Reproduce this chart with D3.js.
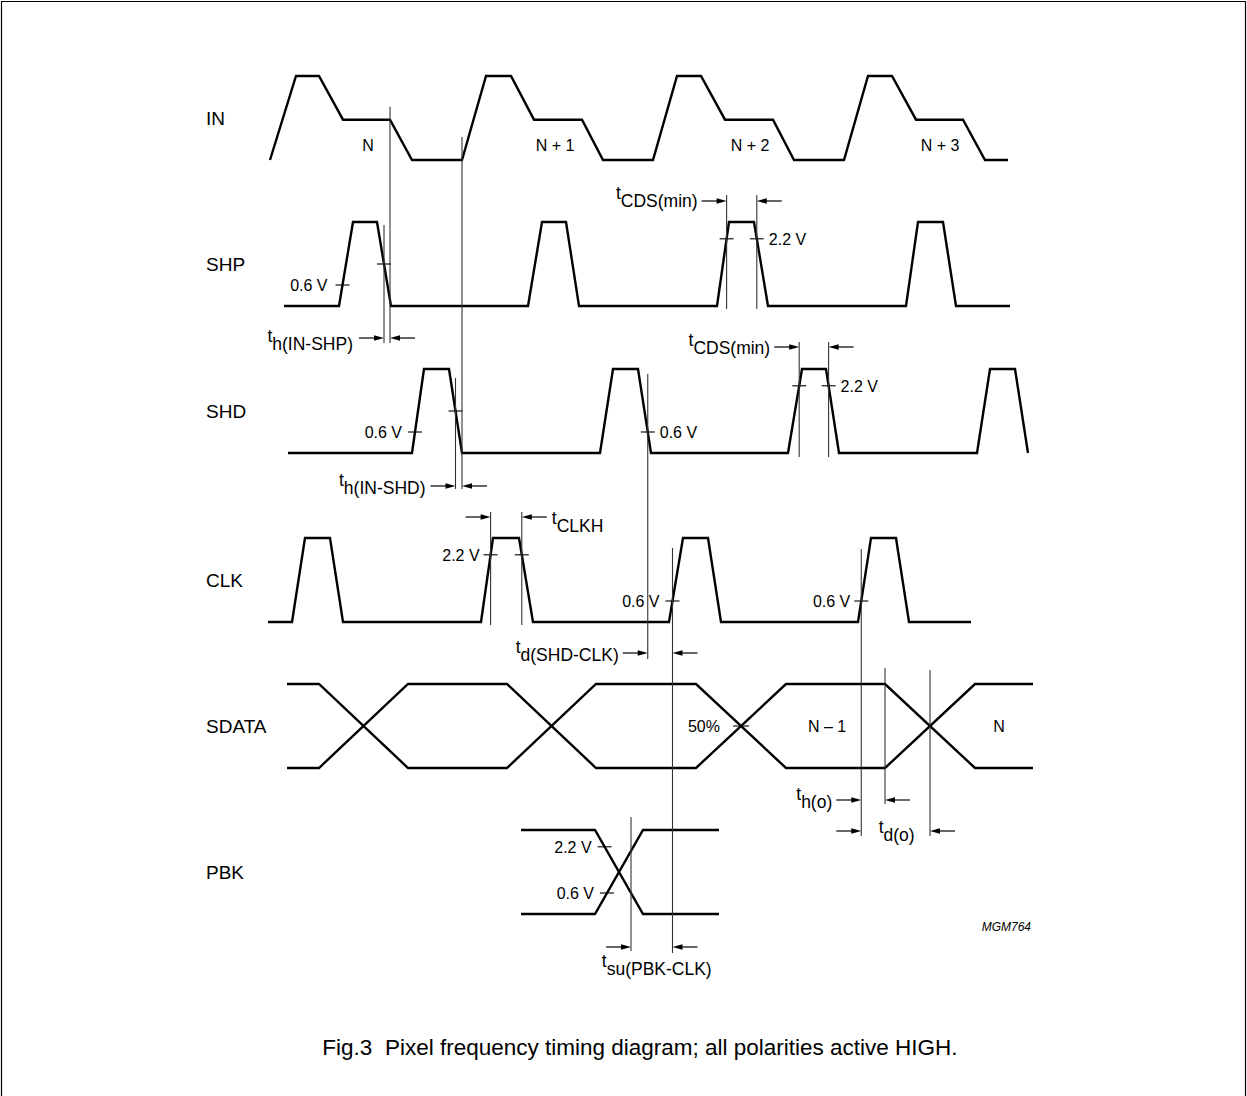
<!DOCTYPE html>
<html>
<head>
<meta charset="utf-8">
<script src="https://cdn.jsdelivr.net/npm/d3@7"></script>
<style>
  body { margin: 0; background: #fff; }
  svg text { font-family: "Liberation Sans", Arial, Helvetica, sans-serif; fill: #000; }
</style>
</head>
<body>
<div id="chart"></div>
<script>
// signal names (top to bottom)
var signals = ["IN", "SHP", "SHD", "CLK", "SDATA", "PBK"];

// waveforms as [time, level]; level 0 = LOW, 1 = HIGH, IN has a middle step
var inWave = [[0,0],[26,1],[49,1],[73,.48],[120,.48],[142,0],[192,0],[216,1],[241,1],[264,.48],[312,.48],[333,0],
              [383,0],[407,1],[431,1],[455,.48],[503,.48],[524,0],[574,0],[598,1],[622,1],[646,.48],[693,.48],[715,0],[738,0]];
var shpWave = [[14,0],[69,0],[83,1],[107,1],[121,0],[258,0],[272,1],[296,1],[309,0],[447,0],[459,1],[484,1],[498,0],
               [636,0],[648,1],[673,1],[686,0],[740,0]];
var shdWave = [[18,0],[142,0],[154,1],[179,1],[192,0],[330,0],[343,1],[368,1],[381,0],[518,0],[532,1],[556,1],[569,0],
               [707,0],[720,1],[745,1],[758,0]];
var clkWave = [[-2,0],[22,0],[35,1],[60,1],[73,0],[211,0],[223,1],[249,1],[263,0],[399,0],[413,1],[438,1],[451,0],
               [588,0],[601,1],[626,1],[639,0],[701,0]];

// SDATA bus: span and transitions [start, end]
var sdataSpan = [17, 763];
var sdataEdges = [[49,138],[237,326],[426,516],[615,705]];
// PBK: span and one transition
var pbkSpan = [251, 449];
var pbkEdge = [325, 373];

// pixel labels
var inLabels = ["N", "N + 1", "N + 2", "N + 3"];
var inLabelTimes = [98, 285, 480, 670];
var sdataLabels = ["N \u2013 1", "N"];
var sdataLabelTimes = [557, 729];

// threshold levels (fraction of swing)
var lvl06 = 0.25, lvl22 = 0.8, lvl50 = 0.5;

var W = 1247, H = 1096;
var svg = d3.select("#chart").append("svg").attr("width", W).attr("height", H);

// frame
svg.append("path").attr("d", "M1.5,1100V1.5H1245.5V1100")
  .attr("fill", "none").attr("stroke", "#000").attr("stroke-width", 1.2);

var x = d3.scaleLinear().domain([0, 760]).range([270, 1030]);
var rowLow = {IN: 160, SHP: 306, SHD: 453, CLK: 622, SDATA: 768, PBK: 914};
var swing = 84;
var y = {};
signals.forEach(function(s) {
  y[s] = d3.scaleLinear().domain([0, 1]).range([rowLow[s], rowLow[s] - swing]);
});

// signal names
svg.append("g").selectAll("text").data(signals).enter().append("text")
  .attr("x", 206)
  .attr("y", function(d) { return y[d](0.5) + 7; })
  .style("font-size", "19px")
  .text(function(d) { return d; });

function wave(g, s, data) {
  g.append("path")
    .attr("d", d3.line().x(function(d) { return x(d[0]); }).y(function(d) { return y[s](d[1]); })(data))
    .attr("fill", "none").attr("stroke", "#000").attr("stroke-width", 2.4)
    .attr("stroke-linejoin", "miter");
}
var gw = svg.append("g");
wave(gw, "IN", inWave);
wave(gw, "SHP", shpWave);
wave(gw, "SHD", shdWave);
wave(gw, "CLK", clkWave);

// bus lines (two complementary traces)
function busLines(span, edges, startHigh) {
  var a = [[span[0], startHigh ? 1 : 0]], lv = startHigh ? 1 : 0;
  edges.forEach(function(e) { a.push([e[0], lv]); lv = 1 - lv; a.push([e[1], lv]); });
  a.push([span[1], lv]);
  return a;
}
var sdA = busLines(sdataSpan, sdataEdges, true), sdB = busLines(sdataSpan, sdataEdges, false);
wave(gw, "SDATA", sdA);
wave(gw, "SDATA", sdB);
var pbA = busLines(pbkSpan, [pbkEdge], true), pbB = busLines(pbkSpan, [pbkEdge], false);
wave(gw, "PBK", pbA);
wave(gw, "PBK", pbB);

// text labels on waveforms
svg.append("g").selectAll("text").data(inLabels).enter().append("text")
  .attr("x", function(d, i) { return x(inLabelTimes[i]); })
  .attr("y", y.IN(0) - 9)
  .attr("text-anchor", "middle").style("font-size", "16px")
  .text(function(d) { return d; });
svg.append("g").selectAll("text").data(sdataLabels).enter().append("text")
  .attr("x", function(d, i) { return x(sdataLabelTimes[i]); })
  .attr("y", y.SDATA(0.5) + 6)
  .attr("text-anchor", "middle").style("font-size", "16px")
  .text(function(d) { return d; });

// ---- annotation helpers ----
var ga = svg.append("g");
function cross(w, i, lv) {
  var a = w[i], b = w[i + 1];
  return a[0] + (b[0] - a[0]) * (lv - a[1]) / (b[1] - a[1]);
}
function vline(t, y1, y2) {
  ga.append("line").attr("x1", x(t)).attr("x2", x(t)).attr("y1", y1).attr("y2", y2)
    .attr("stroke", "#333").attr("stroke-width", 1.1);
}
function tick(t, yy) {
  ga.append("line").attr("x1", x(t) - 7).attr("x2", x(t) + 7).attr("y1", yy).attr("y2", yy)
    .attr("stroke", "#000").attr("stroke-width", 1.1);
}
function label(txt, px, yy, anchor) {
  ga.append("text").attr("x", px).attr("y", yy + 6).attr("text-anchor", anchor)
    .style("font-size", "16px").text(txt);
}
function arrow(x0, x1, yy) {
  var d = x1 > x0 ? 1 : -1;
  ga.append("line").attr("x1", x0).attr("x2", x1 - d * 8).attr("y1", yy).attr("y2", yy)
    .attr("stroke", "#000").attr("stroke-width", 1.2);
  ga.append("path").attr("d", "M" + x1 + "," + yy + "L" + (x1 - d * 10) + "," + (yy - 2.8) +
      "L" + (x1 - d * 10) + "," + (yy + 2.8) + "Z").attr("fill", "#000");
}
var alen = 25;
function dim(t1, t2, yy) {
  arrow(x(t1) - alen, x(t1), yy);
  arrow(x(t2) + alen, x(t2), yy);
}
// "t" with subscript; yy is the baseline of the "t"
function tsym(sub, px, yy, anchor) {
  var t = ga.append("text").attr("x", px).attr("y", yy).attr("text-anchor", anchor)
    .style("font-size", "17.5px");
  t.append("tspan").text("t");
  t.append("tspan").attr("dy", 7.5).text(sub);
}

// IN reference lines
var tIn1 = inWave[4][0], tIn2 = inWave[6][0];
vline(tIn1, y.IN(0.48) - 13, y.SHP(0) + 37);
vline(tIn2, y.IN(0) - 23, y.SHD(0) + 36);

// SHP first pulse
var t = cross(shpWave, 1, lvl06);
tick(t, y.SHP(lvl06)); label("0.6 V", x(t) - 15, y.SHP(lvl06), "end");
var tShpF = cross(shpWave, 3, lvl50);
tick(tShpF, y.SHP(lvl50));
vline(tShpF, y.SHP(1) + 3, y.SHP(0) + 37);
dim(tShpF, tIn1, y.SHP(0) + 32);
tsym("h(IN-SHP)", x(tShpF) - alen - 6, y.SHP(0) + 36, "end");

// SHP third pulse, tCDS(min)
var r1 = cross(shpWave, 9, lvl22), f1 = cross(shpWave, 11, lvl22);
tick(r1, y.SHP(lvl22)); tick(f1, y.SHP(lvl22));
vline(r1, y.SHP(1) - 27, y.SHP(0) + 3); vline(f1, y.SHP(1) - 27, y.SHP(0) + 3);
dim(r1, f1, y.SHP(1) - 21);
tsym("CDS(min)", x(r1) - alen - 4, y.SHP(1) - 23, "end");
label("2.2 V", x(f1) + 12, y.SHP(lvl22), "start");

// SHD first pulse
t = cross(shdWave, 1, lvl06);
tick(t, y.SHD(lvl06)); label("0.6 V", x(t) - 13, y.SHD(lvl06), "end");
var tShdF = cross(shdWave, 3, lvl50);
tick(tShdF, y.SHD(lvl50));
vline(tShdF, y.SHD(1) + 9, y.SHD(0) + 36);
dim(tShdF, tIn2, y.SHD(0) + 33);
tsym("h(IN-SHD)", x(tShdF) - alen - 5, y.SHD(0) + 33, "end");

// SHD second pulse falling 0.6 V
var tShd2 = cross(shdWave, 7, lvl06);
tick(tShd2, y.SHD(lvl06)); label("0.6 V", x(tShd2) + 12, y.SHD(lvl06), "start");
vline(tShd2, y.SHD(1) + 5, y.CLK(0) + 37);

// SHD third pulse, tCDS(min)
var r2 = cross(shdWave, 9, lvl22), f2 = cross(shdWave, 11, lvl22);
tick(r2, y.SHD(lvl22)); tick(f2, y.SHD(lvl22));
vline(r2, y.SHD(1) - 27, y.SHD(0) + 4); vline(f2, y.SHD(1) - 27, y.SHD(0) + 4);
dim(r2, f2, y.SHD(1) - 22);
tsym("CDS(min)", x(r2) - alen - 4, y.SHD(1) - 23, "end");
label("2.2 V", x(f2) + 12, y.SHD(lvl22), "start");

// CLK second pulse, tCLKH
var r3 = cross(clkWave, 5, lvl22), f3 = cross(clkWave, 7, lvl22);
tick(r3, y.CLK(lvl22)); tick(f3, y.CLK(lvl22));
vline(r3, y.CLK(1) - 26, y.CLK(0) + 3); vline(f3, y.CLK(1) - 26, y.CLK(0) + 3);
dim(r3, f3, y.CLK(1) - 21);
label("2.2 V", x(r3) - 11, y.CLK(lvl22), "end");
tsym("CLKH", x(f3) + alen + 5, y.CLK(1) - 14, "start");

// CLK third pulse 0.6 V
var tClk3 = cross(clkWave, 9, lvl06);
tick(tClk3, y.CLK(lvl06)); label("0.6 V", x(tClk3) - 13, y.CLK(lvl06), "end");
vline(tClk3, y.CLK(1) + 10, y.PBK(0) + 39);
dim(tShd2, tClk3, y.CLK(0) + 31);
tsym("d(SHD-CLK)", x(tShd2) - alen - 4, y.CLK(0) + 31, "end");

// CLK fourth pulse 0.6 V
var tClk4 = cross(clkWave, 13, lvl06);
tick(tClk4, y.CLK(lvl06)); label("0.6 V", x(tClk4) - 11, y.CLK(lvl06), "end");
vline(tClk4, y.CLK(1) + 11, y.SDATA(0) + 68);

// SDATA 50 % and output timing
var c3 = (sdataEdges[2][0] + sdataEdges[2][1]) / 2;
ga.append("line").attr("x1", x(c3) - 8).attr("x2", x(c3) + 8)
  .attr("y1", y.SDATA(lvl50)).attr("y2", y.SDATA(lvl50)).attr("stroke", "#000").attr("stroke-width", 1.1);
label("50%", x(c3) - 21, y.SDATA(lvl50), "end");
var tHo = sdataEdges[3][0], c4 = (sdataEdges[3][0] + sdataEdges[3][1]) / 2;
vline(tHo, y.SDATA(1) - 16, y.SDATA(0) + 36);
vline(c4, y.SDATA(1) - 14, y.SDATA(0) + 68);
dim(tClk4, tHo, y.SDATA(0) + 32);
tsym("h(o)", x(tClk4) - alen - 4, y.SDATA(0) + 32, "end");
dim(tClk4, c4, y.SDATA(0) + 63);
tsym("d(o)", (x(tClk4) + x(c4)) / 2 + 1, y.SDATA(0) + 65, "middle");

// PBK thresholds and set-up time
var pA = cross(pbA, 1, lvl22), pB = cross(pbB, 1, lvl06);
tick(pA, y.PBK(lvl22)); label("2.2 V", x(pA) - 13, y.PBK(lvl22), "end");
tick(pB, y.PBK(lvl06)); label("0.6 V", x(pB) - 13, y.PBK(lvl06), "end");
var tSu = cross(pbA, 1, lvl06);
vline(tSu, y.PBK(1) - 13, y.PBK(0) + 37);
dim(tSu, tClk3, y.PBK(0) + 33);
tsym("su(PBK-CLK)", (x(tSu) + x(tClk3)) / 2 + 5, y.PBK(0) + 53, "middle");

// figure id and caption
svg.append("text").attr("x", 1031).attr("y", 931).attr("text-anchor", "end")
  .style("font-size", "12px").style("font-style", "italic").text("MGM764");
svg.append("text").attr("x", 640).attr("y", 1055).attr("text-anchor", "middle")
  .style("font-size", "22.5px").style("white-space", "pre")
  .text("Fig.3  Pixel frequency timing diagram; all polarities active HIGH.");
</script>
</body>
</html>
